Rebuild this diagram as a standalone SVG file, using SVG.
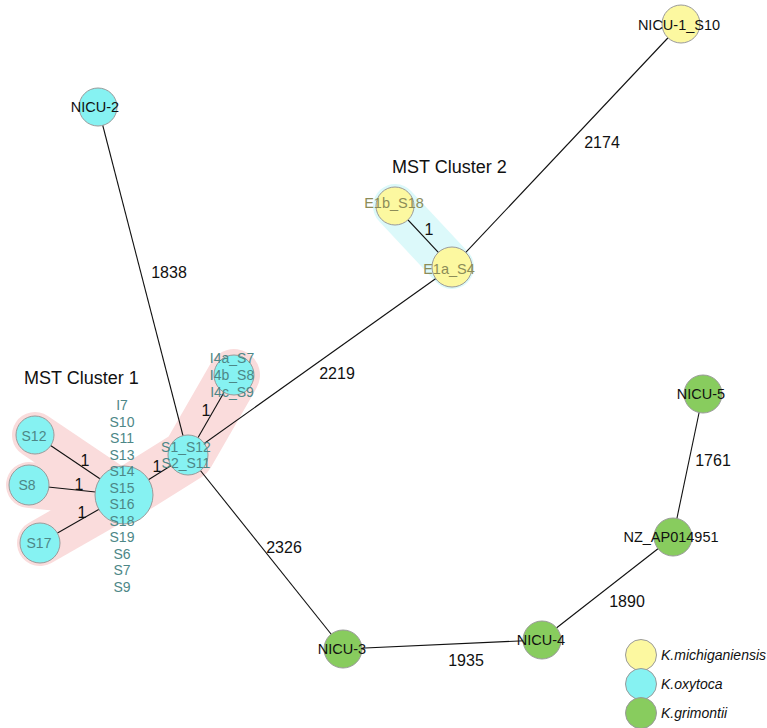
<svg xmlns="http://www.w3.org/2000/svg" width="767" height="728" viewBox="0 0 767 728">
  <style>
    text { font-family: "Liberation Sans", Arial, sans-serif; }
    .edge { stroke: #111; stroke-width: 1.1; fill: none; }
    .w { font-size: 16px; fill: #111; text-anchor: middle; }
    .node { stroke: #9a9a9a; stroke-width: 1; }
    .oxy { fill: #86f2f2; }
    .mich { fill: #fcf8a0; }
    .grim { fill: #88cc5e; }
    .lbl { font-size: 14.5px; fill: #111; text-anchor: middle; dominant-baseline: central; }
    .c1 { font-size: 14px; fill: #4d8787; text-anchor: middle; dominant-baseline: central; }
    .c2 { font-size: 14.5px; fill: #8c8c58; text-anchor: middle; dominant-baseline: central; }
    .title { font-size: 18px; fill: #111; }
    .band1 { stroke: #fadcdc; stroke-linecap: round; stroke-linejoin: round; fill: none; }
    .band2 { stroke: #dcf9fa; stroke-linecap: round; fill: none; }
    .leg { font-size: 14px; font-style: italic; fill: #111; dominant-baseline: central; }
  </style>

  <!-- cluster highlight bands -->
  <g id="cluster-highlights">
    <path class="band1" stroke-width="46" d="M35,435 L124,495 M29,485 L124,495 M40,543 L124,495"/>
    <path class="band1" stroke-width="52" d="M124,495 L188,455 L234,375"/>
    <path class="band2" stroke-width="44" d="M395,206 L452,267"/>
  </g>

  <!-- connectors -->
  <g id="connectors">
    <line class="edge" x1="98" y1="107" x2="188" y2="455"/>
    <line class="edge" x1="188" y1="455" x2="452" y2="267"/>
    <line class="edge" x1="452" y1="267" x2="681" y2="24"/>
    <line class="edge" x1="188" y1="455" x2="343" y2="649"/>
    <line class="edge" x1="343" y1="649" x2="541" y2="640"/>
    <line class="edge" x1="541" y1="640" x2="673" y2="537"/>
    <line class="edge" x1="673" y1="537" x2="703" y2="394"/>
    <line class="edge" x1="395" y1="206" x2="452" y2="267"/>
    <line class="edge" x1="35" y1="435" x2="124" y2="495"/>
    <line class="edge" x1="29" y1="485" x2="124" y2="495"/>
    <line class="edge" x1="40" y1="543" x2="124" y2="495"/>
    <line class="edge" x1="124" y1="495" x2="188" y2="455"/>
    <line class="edge" x1="188" y1="455" x2="234" y2="375"/>
  </g>

  <!-- edge weights -->
  <g id="edge-labels">
    <text class="w" x="169" y="278">1838</text>
    <text class="w" x="337" y="379">2219</text>
    <text class="w" x="602" y="148">2174</text>
    <text class="w" x="284" y="553">2326</text>
    <text class="w" x="466" y="666">1935</text>
    <text class="w" x="627" y="607">1890</text>
    <text class="w" x="713" y="466">1761</text>
    <text class="w" x="429" y="235">1</text>
    <text class="w" x="85" y="466">1</text>
    <text class="w" x="79" y="490">1</text>
    <text class="w" x="82" y="518">1</text>
    <text class="w" x="157" y="472">1</text>
    <text class="w" x="206" y="416">1</text>
  </g>

  <!-- nodes -->
  <g id="node-nicu1-s10">
    <circle class="node mich" cx="681" cy="24" r="19"/>
    <text class="lbl" x="679" y="25">NICU-1_S10</text>
  </g>
  <g id="node-nicu2">
    <circle class="node oxy" cx="98" cy="107" r="19"/>
    <text class="lbl" x="95" y="107">NICU-2</text>
  </g>
  <g id="node-e1b-s18">
    <circle class="node mich" cx="395" cy="206" r="19"/>
    <text class="c2" x="394" y="203">E1b_S18</text>
  </g>
  <g id="node-e1a-s4">
    <circle class="node mich" cx="452" cy="267" r="20"/>
    <text class="c2" x="449" y="269">E1a_S4</text>
  </g>
  <g id="node-i4">
    <circle class="node oxy" cx="234" cy="375" r="20"/>
    <text class="c1" x="232" y="358">I4a_S7</text>
    <text class="c1" x="232" y="375">I4b_S8</text>
    <text class="c1" x="232" y="392">I4c_S9</text>
  </g>
  <g id="node-s1-s12">
    <circle class="node oxy" cx="188" cy="455" r="20"/>
    <text class="c1" x="186" y="447">S1_S12</text>
    <text class="c1" x="186" y="463">S2_S11</text>
  </g>
  <g id="node-s12">
    <circle class="node oxy" cx="35" cy="435" r="19"/>
    <text class="c1" x="34" y="436">S12</text>
  </g>
  <g id="node-s8">
    <circle class="node oxy" cx="29" cy="485" r="20"/>
    <text class="c1" x="27" y="485">S8</text>
  </g>
  <g id="node-s17">
    <circle class="node oxy" cx="40" cy="543" r="20"/>
    <text class="c1" x="39" y="543">S17</text>
  </g>
  <g id="node-i7-group">
    <circle class="node oxy" cx="124" cy="495" r="29"/>
    <text class="c1" x="122" y="405">I7</text>
    <text class="c1" x="122" y="421.5">S10</text>
    <text class="c1" x="122" y="438">S11</text>
    <text class="c1" x="122" y="454.5">S13</text>
    <text class="c1" x="122" y="471">S14</text>
    <text class="c1" x="122" y="487.5">S15</text>
    <text class="c1" x="122" y="504">S16</text>
    <text class="c1" x="122" y="520.5">S18</text>
    <text class="c1" x="122" y="537">S19</text>
    <text class="c1" x="122" y="553.5">S6</text>
    <text class="c1" x="122" y="570">S7</text>
    <text class="c1" x="122" y="586.5">S9</text>
  </g>
  <g id="node-nicu3">
    <circle class="node grim" cx="343" cy="649" r="19"/>
    <text class="lbl" x="342" y="649">NICU-3</text>
  </g>
  <g id="node-nicu4">
    <circle class="node grim" cx="542" cy="640" r="19"/>
    <text class="lbl" x="541" y="640">NICU-4</text>
  </g>
  <g id="node-nz-ap014951">
    <circle class="node grim" cx="673" cy="537" r="19"/>
    <text class="lbl" x="671" y="537">NZ_AP014951</text>
  </g>
  <g id="node-nicu5">
    <circle class="node grim" cx="703" cy="394" r="19"/>
    <text class="lbl" x="701" y="394">NICU-5</text>
  </g>

  <!-- cluster titles -->
  <text class="title" x="24" y="384">MST Cluster 1</text>
  <text class="title" x="392" y="173">MST Cluster 2</text>

  <!-- legend -->
  <g id="legend">
    <circle class="node mich" cx="641" cy="655" r="15.5"/>
    <text class="leg" x="661" y="655">K.michiganiensis</text>
    <circle class="node oxy" cx="641" cy="684" r="15.5"/>
    <text class="leg" x="661" y="684">K.oxytoca</text>
    <circle class="node grim" cx="641" cy="713" r="15.5"/>
    <text class="leg" x="661" y="713">K.grimontii</text>
  </g>
</svg>
